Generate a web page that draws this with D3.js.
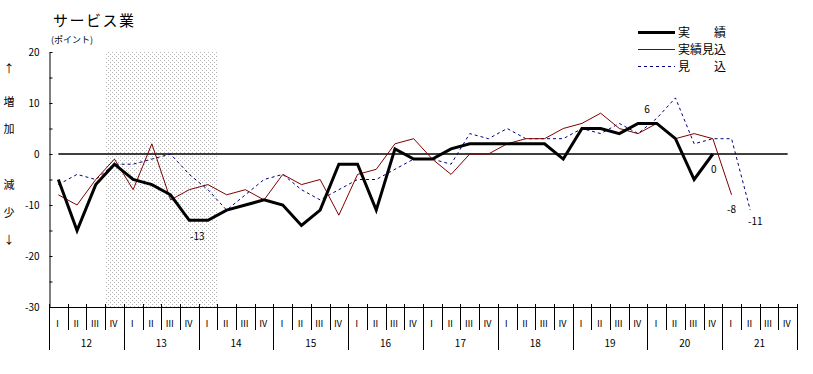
<!DOCTYPE html>
<html>
<head>
<meta charset="utf-8">
<script src="https://cdn.jsdelivr.net/npm/d3@7"></script>
<style>
  body { margin: 0; background: #fff; }
  text { font-family: "Noto Sans CJK JP", sans-serif; }
</style>
</head>
<body>
<script>
const width = 813;
const height = 374;

const years = ['12', '13', '14', '15', '16', '17', '18', '19', '20', '21'];
const quarters = ['Ⅰ', 'Ⅱ', 'Ⅲ', 'Ⅳ'];

// 実績
const jisseki = [-5, -15, -6, -2, -5, -6, -8, -13, -13, -11, -10, -9, -10, -14, -11, -2,
  -2, -11, 1, -1, -1, 1, 2, 2, 2, 2, 2, -1, 5, 5, 4, 6, 6, 3, -5, 0];
// 実績見込
const jissekiMikomi = [-8, -10, -5, -1, -7, 2, -9, -7, -6, -8, -7, -9, -4, -6, -5, -12,
  -4, -3, 2, 3, -1, -4, 0, 0, 2, 3, 3, 5, 6, 8, 5, 4, 6, 3, 4, 3, -8];
// 見込
const mikomi = [-6, -4, -5, -2, -2, -1, 0, -4, -7, -11, -8, -5, -4, -7, -9, -7,
  -5, -5, -3, -1, -1, -2, 4, 3, 5, 3, 3, 3, 5, 4, 6, 4, 7, 11, 2, 3, 3, -11];

const yTicks = [-30, -25, -20, -15, -10, -5, 0, 5, 10, 15, 20];
// 網掛けの期間 (12年Ⅳ〜14年Ⅰ)
const shade = ['12-Ⅳ', '14-Ⅰ'];
// 数値ラベル
const notes = [
  { s: 'jisseki', i: 7, text: '-13', dx: 8, dy: 20 },
  { s: 'jisseki', i: 31, text: '6', dx: 9, dy: -10 },
  { s: 'jisseki', i: 35, text: '0', dx: 1, dy: 19 },
  { s: 'jissekiMikomi', i: 36, text: '-8', dx: 0, dy: 18 },
  { s: 'mikomi', i: 37, text: '-11', dx: 5, dy: 15 },
];

const keys = years.flatMap(y => quarters.map(q => `${y}-${q}`));
const seriesData = { jisseki, jissekiMikomi, mikomi };

const x = d3.scaleBand().domain(keys).range([49, 797]);
const y = d3.scaleLinear().domain([-30, 20]).range([307, 52]);
const cx = i => x(keys[i]) + x.bandwidth() / 2;

const svg = d3.select('body').append('svg')
  .attr('width', width)
  .attr('height', height)
  .style('background', '#fff');

// ドットの網掛け
const pat = svg.append('defs').append('pattern')
  .attr('id', 'dots')
  .attr('width', 4).attr('height', 4)
  .attr('patternUnits', 'userSpaceOnUse');
pat.append('rect').attr('x', 0).attr('y', 0).attr('width', 1).attr('height', 1).attr('fill', '#b4b4b4');
pat.append('rect').attr('x', 2).attr('y', 2).attr('width', 1).attr('height', 1).attr('fill', '#b4b4b4');

svg.append('rect')
  .attr('x', x(shade[0]))
  .attr('y', y(20))
  .attr('width', x(shade[1]) + x.bandwidth() - x(shade[0]))
  .attr('height', y(-30) - y(20))
  .attr('fill', 'url(#dots)');

// タイトル
svg.append('text')
  .attr('x', 53).attr('y', 26)
  .attr('font-size', 15)
  .attr('letter-spacing', 1.5)
  .text('サービス業');
svg.append('text')
  .attr('x', 51).attr('y', 43)
  .attr('font-size', 9)
  .text('(ポイント)');

// 左側の縦書きラベル
const sideLabels = [['↑', 73], ['増', 106], ['加', 133], ['減', 189], ['少', 217], ['↓', 244]];
svg.selectAll('.side')
  .data(sideLabels)
  .enter()
  .append('text')
  .attr('x', 9)
  .attr('y', d => d[1])
  .attr('text-anchor', 'middle')
  .attr('font-size', 11)
  .text(d => d[0]);

// y軸
const yAxis = svg.append('g')
  .attr('transform', 'translate(49.5,0)')
  .call(d3.axisLeft(y)
    .tickValues(yTicks)
    .tickSize(-3)
    .tickSizeOuter(0)
    .tickPadding(10)
    .tickFormat(d => d % 10 === 0 ? d : ''));
yAxis.selectAll('text')
  .attr('font-family', '"Noto Sans CJK JP", sans-serif')
  .attr('font-size', 10);
yAxis.selectAll('line, path').attr('stroke', '#000');

// 0の線
svg.append('line')
  .attr('x1', cx(0)).attr('x2', cx(keys.length - 1))
  .attr('y1', y(0)).attr('y2', y(0))
  .attr('stroke', '#000')
  .attr('stroke-width', 1.5);

// x軸
svg.append('line')
  .attr('x1', 49).attr('x2', 797)
  .attr('y1', y(-30) + 0.5).attr('y2', y(-30) + 0.5)
  .attr('stroke', '#000');

svg.selectAll('.qsep')
  .data(keys.concat(['end']))
  .enter()
  .append('line')
  .attr('x1', d => Math.round(d === 'end' ? 797 : x(d)) + 0.5)
  .attr('x2', d => Math.round(d === 'end' ? 797 : x(d)) + 0.5)
  .attr('y1', 304)
  .attr('y2', (d, i) => i % 4 === 0 ? 350 : 330)
  .attr('stroke', '#000');

svg.selectAll('.qlabel')
  .data(keys)
  .enter()
  .append('text')
  .attr('x', d => x(d) + 4)
  .attr('y', 327)
  .attr('font-size', 9)
  .attr('font-family', '"Liberation Serif", serif')
  .text((d, i) => quarters[i % 4]);

svg.selectAll('.ylabel')
  .data(years)
  .enter()
  .append('text')
  .attr('x', d => x(`${d}-Ⅰ`) + x.bandwidth() * 2)
  .attr('y', 347)
  .attr('text-anchor', 'middle')
  .attr('font-size', 10)
  .text(d => d);

// 折れ線
const line = d3.line()
  .x((d, i) => cx(i))
  .y(d => y(d));

svg.append('path')
  .datum(mikomi)
  .attr('d', line)
  .attr('fill', 'none')
  .attr('stroke', '#000080')
  .attr('stroke-width', 1)
  .attr('stroke-dasharray', '3,3');

svg.append('path')
  .datum(jissekiMikomi)
  .attr('d', line)
  .attr('fill', 'none')
  .attr('stroke', '#800000')
  .attr('stroke-width', 1);

svg.append('path')
  .datum(jisseki)
  .attr('d', line)
  .attr('fill', 'none')
  .attr('stroke', '#000')
  .attr('stroke-width', 3);

// 数値ラベル
svg.selectAll('.note')
  .data(notes)
  .enter()
  .append('text')
  .attr('x', d => cx(d.i) + d.dx)
  .attr('y', d => y(seriesData[d.s][d.i]) + d.dy)
  .attr('text-anchor', 'middle')
  .attr('font-size', 10)
  .text(d => d.text);

// 凡例
const legendItems = [
  { name: '実　　績', color: '#000', w: 3, dash: null },
  { name: '実績見込', color: '#800000', w: 1, dash: null },
  { name: '見　　込', color: '#000080', w: 1, dash: '3,3' },
];
const legend = svg.append('g');
legend.selectAll('line')
  .data(legendItems)
  .enter()
  .append('line')
  .attr('x1', 638).attr('x2', 675)
  .attr('y1', (d, i) => 32.5 + i * 17)
  .attr('y2', (d, i) => 32.5 + i * 17)
  .attr('stroke', d => d.color)
  .attr('stroke-width', d => d.w)
  .attr('stroke-dasharray', d => d.dash);
legend.selectAll('text')
  .data(legendItems)
  .enter()
  .append('text')
  .attr('x', 678)
  .attr('y', (d, i) => 37 + i * 17)
  .attr('font-size', 12)
  .text(d => d.name);
</script>
</body>
</html>
